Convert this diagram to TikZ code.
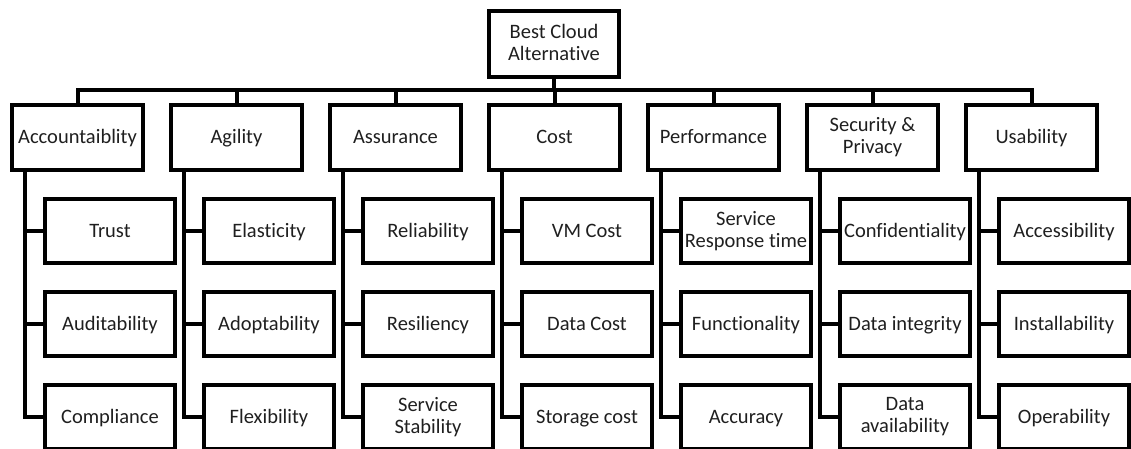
\documentclass[tikz,border=0pt]{standalone}
\usepackage{fontspec}
\setmainfont[Ligatures=NoCommon]{Carlito}
\begin{document}
\begin{tikzpicture}[x=1pt,y=-1pt,line width=4pt,
  box/.style={draw,rectangle,align=center,inner sep=1pt,
    font=\fontsize{20.5pt}{22pt}\selectfont,text=black!88,
    execute at begin node={\rule{0pt}{16pt}},
    execute at end node={\rule[-3pt]{0pt}{3pt}}},
  topbox/.style={box,minimum width=130pt,minimum height=66pt},
  catbox/.style={box,minimum width=131pt,minimum height=65pt},
  leafbox/.style={box,minimum width=130pt,minimum height=64pt},
  link/.style={draw,line join=miter}]
\clip (0,0) rectangle (1131,449);

% goal at the top
\node[topbox] (root) at (554,44) {Best Cloud\\Alternative};
\coordinate (bus) at (554,90);

% criteria with their sub-criteria
\foreach \i/\cat/\a/\b/\c in {
  1/Accountaiblity/Trust/Auditability/Compliance,
  2/Agility/Elasticity/Adoptability/Flexibility,
  3/Assurance/Reliability/Resiliency/{Service\\Stability},
  4/Cost/VM Cost/Data Cost/Storage cost,
  5/Performance/{Service\\Response time}/Functionality/Accuracy,
  6/{Security \&\\Privacy}/Confidentiality/Data integrity/{Data\\availability},
  7/Usability/Accessibility/Installability/Operability}{
  \pgfmathsetmacro\cx{77.5+159*(\i-1)}
  \node[catbox] (c\i) at (\cx,137.5) {\cat};
  \node[leafbox] (l\i-a) at (\cx+32.5,231) {\a};
  \node[leafbox] (l\i-b) at (\cx+32.5,324) {\b};
  \node[leafbox] (l\i-c) at (\cx+32.5,417) {\c};
  \coordinate (s\i) at (\cx-52.5,137.5);
  \path[link] (s\i |- c\i.south) -- (s\i |- l\i-c.west) -- (l\i-c.west);
  \path[link] (s\i |- l\i-a.west) -- (l\i-a.west);
  \path[link] (s\i |- l\i-b.west) -- (l\i-b.west);
}

% bus joining the goal to the criteria
\path[link] (root.south) -- (bus);
\path[link] (c1.north) -- (c1.north |- bus) -- (c7.north |- bus) -- (c7.north);
\foreach \i in {2,...,6}{
  \path[link] (c\i.north) -- (c\i.north |- bus);
}
\end{tikzpicture}
\end{document}
